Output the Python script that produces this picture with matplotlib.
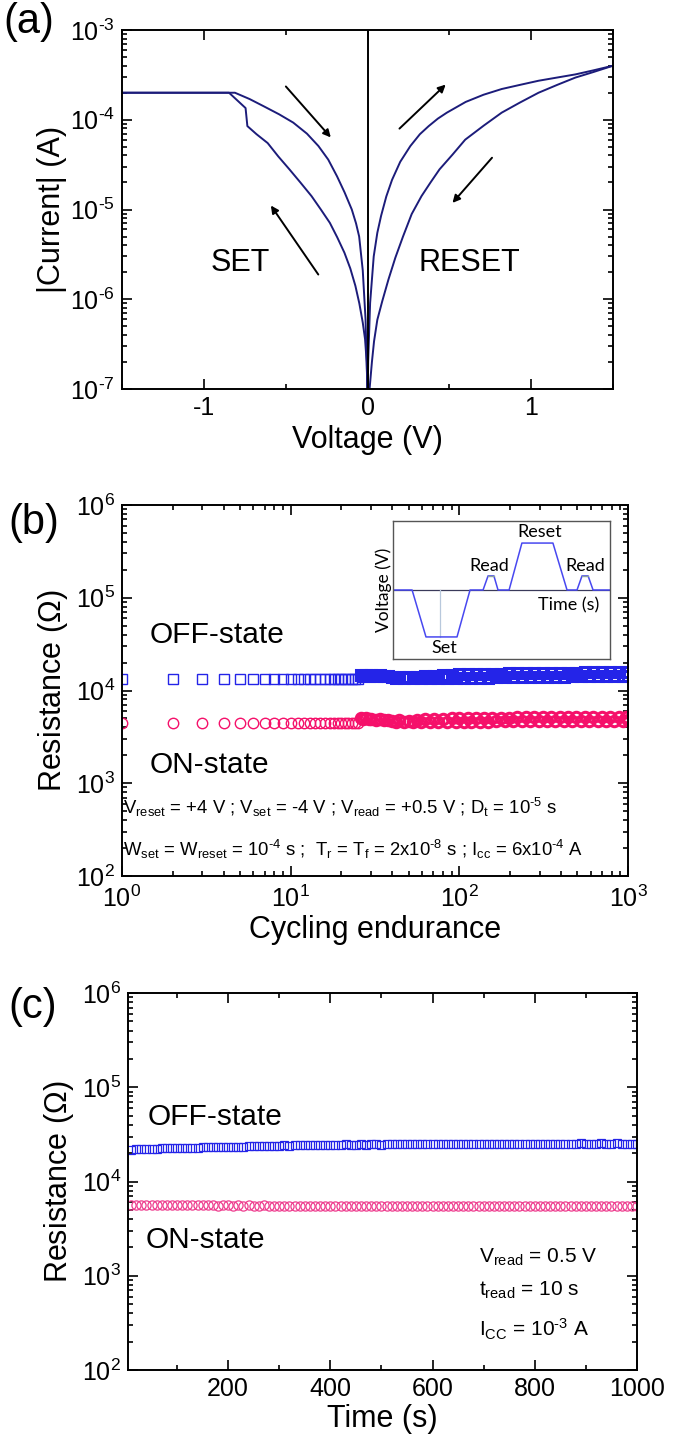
import numpy as np
import matplotlib
matplotlib.use("Agg")
import matplotlib.pyplot as plt
from matplotlib.ticker import LogLocator, NullFormatter, MultipleLocator, FuncFormatter

plt.rcParams['font.family'] = ['Liberation Sans', 'DejaVu Sans']
plt.rcParams['mathtext.fontset'] = 'custom'
plt.rcParams['mathtext.rm'] = 'Liberation Sans'
plt.rcParams['mathtext.it'] = 'Liberation Sans:italic'
plt.rcParams['axes.unicode_minus'] = False

# ---- (a) I-V sweeps ----
set_v = [0.0, -0.001, -0.005, -0.015, -0.029, -0.05, -0.074, -0.105, -0.141, -0.185,
         -0.23, -0.285, -0.342, -0.41, -0.477, -0.545, -0.61, -0.678, -0.734, -0.745,
         -0.846, -1.5]
set_i = [5e-8, 1e-7, 2.0e-7, 3.6e-7, 5.5e-7, 9.0e-7, 1.41e-6, 2.2e-6, 3.3e-6, 4.9e-6,
         7.1e-6, 1.0e-5, 1.41e-5, 2.0e-5, 2.8e-5, 3.9e-5, 5.5e-5, 6.9e-5, 8.5e-5, 1.35e-4,
         2.0e-4, 2.0e-4]
lrs_neg_v = [-1.5, -0.81, -0.72, -0.633, -0.54, -0.454, -0.37, -0.30, -0.24, -0.186,
             -0.14, -0.096, -0.07, -0.051, -0.029, -0.012, -0.003, 0.0]
lrs_neg_i = [2.0e-4, 2.0e-4, 1.7e-4, 1.41e-4, 1.15e-4, 9.3e-5, 7.0e-5, 5.1e-5, 3.6e-5, 2.34e-5,
             1.55e-5, 1.0e-5, 7.0e-6, 5.0e-6, 2.1e-6, 6.0e-7, 1.5e-7, 5e-8]
lrs_pos_v = [0.0, 0.004, 0.016, 0.038, 0.06, 0.083, 0.115, 0.15, 0.2, 0.262, 0.32,
             0.374, 0.43, 0.485, 0.6, 0.709, 0.82, 0.933, 1.045, 1.157, 1.27, 1.38, 1.5]
lrs_pos_i = [5e-8, 2e-7, 9.1e-7, 3.0e-6, 5.5e-6, 8.5e-6, 1.4e-5, 2.14e-5, 3.4e-5, 5.1e-5, 6.9e-5,
             8.5e-5, 1.03e-4, 1.2e-4, 1.58e-4, 1.9e-4, 2.2e-4, 2.45e-4, 2.72e-4, 2.95e-4, 3.2e-4,
             3.55e-4, 4.0e-4]
hrs_pos_v = [1.5, 1.38, 1.27, 1.16, 1.045, 0.93, 0.82, 0.71, 0.597, 0.52, 0.44, 0.385,
             0.33, 0.27, 0.217, 0.17, 0.128, 0.09, 0.06, 0.04, 0.027, 0.008]
hrs_pos_i = [4.0e-4, 3.4e-4, 2.95e-4, 2.45e-4, 2.0e-4, 1.55e-4, 1.2e-4, 8.6e-5, 6.0e-5, 4.1e-5,
             2.8e-5, 2.0e-5, 1.41e-5, 8.9e-6, 5.0e-6, 2.9e-6, 1.66e-6, 9.5e-7, 5.9e-7, 3.4e-7,
             2.0e-7, 8e-8]

# ---- (b) endurance: cycle number, resistance in kOhm ----
cycles_sparse = list(range(1, 26))
off_sparse_k = [13.4, 13.3, 13.3, 13.4, 13.3, 13.3, 13.4, 13.3, 13.3, 13.4, 13.3, 13.4, 13.3,
                13.3, 13.4, 13.3, 13.4, 13.3, 13.4, 13.3, 13.4, 13.4, 13.3, 13.4, 13.4]
on_sparse_k = [4.45, 4.44, 4.45, 4.44, 4.45, 4.44, 4.45, 4.44, 4.44, 4.45, 4.44, 4.45, 4.44,
               4.44, 4.45, 4.44, 4.45, 4.44, 4.45, 4.44, 4.45, 4.45, 4.44, 4.45, 4.46]
cycles_dense = [
    26, 27, 28, 29, 30, 32, 34, 36, 38, 40, 42, 44, 47, 50, 53, 56, 59, 63, 67, 71,
    75, 80, 85, 90, 95, 100, 106, 112, 118, 125, 132, 140, 148, 157, 166, 176, 186, 197,
    209, 221, 234, 248, 263, 278, 295, 312, 331, 350, 371, 393, 416, 441, 467, 495, 524,
    555, 588, 623, 660, 699, 741, 785, 831, 880, 933, 970, 1000]
off_dense_k = [
    14.7, 14.4, 14.8, 14.4, 14.7, 14.3, 14.6, 14.4, 14.2, 13.9, 13.6, 14.0, 13.6, 13.9, 13.6,
    14.1, 13.5, 14.3, 13.5, 14.5, 13.5, 14.7, 13.6, 14.8, 13.6, 14.9, 13.7, 15.0, 13.7, 15.0,
    13.8, 15.1, 13.8, 15.2, 13.9, 15.2, 13.9, 15.3, 13.9, 15.3, 14.0, 15.4, 14.0, 15.4,
    14.0, 15.5, 14.1, 15.5, 14.1, 15.5, 14.1, 15.6, 14.2, 15.6, 14.2, 15.7, 14.3, 15.7,
    14.3, 15.7, 14.3, 15.8, 14.4, 15.8, 14.4, 15.8, 14.5]
on_dense_k = [
    5.00, 4.88, 5.02, 4.90, 4.98, 4.85, 4.95, 4.84, 4.80, 4.72, 4.62, 4.76, 4.60, 4.72, 4.58,
    4.82, 4.55, 4.88, 4.56, 4.92, 4.56, 4.96, 4.58, 5.00, 4.60, 5.02, 4.60, 5.05, 4.62, 5.06,
    4.62, 5.08, 4.63, 5.08, 4.64, 5.10, 4.65, 5.10, 4.65, 5.12, 4.66, 5.12, 4.67, 5.14,
    4.67, 5.14, 4.68, 5.15, 4.68, 5.16, 4.69, 5.16, 4.70, 5.17, 4.70, 5.18, 4.71, 5.18,
    4.72, 5.19, 4.72, 5.20, 4.73, 5.20, 4.74, 5.21, 4.75]

# ---- (c) retention: time (s), resistance in kOhm ----
retention_time_s = list(range(10, 1001, 10))
off_retention_k = [
    21.8, 22.0, 22.1, 22.2, 22.1, 22.3, 22.4, 22.5, 22.4, 22.6,
    22.7, 22.8, 22.7, 22.9, 23.0, 23.1, 23.0, 23.2, 23.3, 23.2,
    23.4, 23.5, 23.4, 23.6, 23.7, 23.6, 23.8, 23.9, 23.8, 24.0,
    24.1, 24.0, 24.2, 24.1, 24.3, 24.2, 24.4, 24.3, 24.5, 24.4,
    24.6, 24.5, 24.7, 24.6, 24.5, 24.7, 24.6, 24.8, 24.7, 24.6,
    24.7, 24.8, 24.7, 24.9, 24.8, 24.7, 24.8, 24.9, 24.8, 24.7,
    24.8, 24.9, 25.0, 24.8, 24.9, 25.0, 24.9, 24.8, 25.0, 25.1,
    25.0, 24.9, 25.0, 25.1, 25.0, 25.2, 25.1, 25.0, 25.1, 25.2,
    25.1, 25.0, 25.2, 25.1, 25.3, 25.2, 25.1, 25.3, 25.4, 25.2,
    25.3, 25.2, 25.4, 25.3, 25.2, 25.4, 25.3, 25.2, 25.3, 25.2]
on_retention_k = [
    5.62, 5.60, 5.61, 5.59, 5.60, 5.58, 5.59, 5.60, 5.58, 5.59,
    5.58, 5.57, 5.58, 5.59, 5.57, 5.58, 5.57, 5.56, 5.58, 5.57,
    5.56, 5.57, 5.56, 5.58, 5.56, 5.55, 5.57, 5.56, 5.55, 5.56,
    5.55, 5.56, 5.54, 5.55, 5.56, 5.54, 5.55, 5.54, 5.56, 5.55,
    5.54, 5.55, 5.53, 5.54, 5.55, 5.53, 5.54, 5.53, 5.55, 5.54,
    5.53, 5.54, 5.52, 5.53, 5.54, 5.52, 5.53, 5.52, 5.54, 5.53,
    5.52, 5.53, 5.51, 5.52, 5.53, 5.51, 5.52, 5.51, 5.53, 5.52,
    5.51, 5.52, 5.50, 5.51, 5.52, 5.50, 5.51, 5.50, 5.52, 5.51,
    5.50, 5.51, 5.49, 5.50, 5.51, 5.49, 5.50, 5.49, 5.51, 5.50,
    5.49, 5.50, 5.48, 5.49, 5.50, 5.48, 5.49, 5.48, 5.50, 5.49]

# ---- inset: schematic pulse train (arbitrary units) ----
pulse_t = [0, 8.8, 15.2, 29.5, 35.5, 41.5, 43.8, 46.5, 48.4, 53.5, 59.4, 73.7, 80.2,
           84.8, 87.1, 89.9, 92.2, 100]
pulse_v = [0, 0, -1, -1, 0, 0, 0.3, 0.3, 0, 0, 1, 1, 0, 0, 0.3, 0.3, 0, 0]

W, H = 675, 1449
fig = plt.figure(figsize=(W / 100, H / 100), dpi=100)


def box(l, t, r, b):
    return [l / W, 1 - b / H, (r - l) / W, (b - t) / H]


def pow10(v, pos):
    e = int(round(np.log10(v)))
    if e < 0:
        return '10$^{\\text{-}%d}$' % (-e)
    return '10$^{%d}$' % e


def style(ax):
    ax.tick_params(which='both', direction='in', top=True, right=True, labelsize=18,
                   width=1.2, pad=5)
    ax.tick_params(which='major', length=7)
    ax.tick_params(which='minor', length=3.5)
    for s in ax.spines.values():
        s.set_linewidth(1.4)


def logy(a):
    a.set_major_locator(LogLocator(base=10, numticks=10))
    a.set_minor_locator(LogLocator(base=10, subs=np.arange(2, 10), numticks=20))
    a.set_major_formatter(FuncFormatter(pow10))
    a.set_minor_formatter(NullFormatter())


line_col = '#1c1c7a'
blue = '#2424e8'
pink = '#f5106a'
pink_c = '#ee3d8e'
lab = 22

# ---------------- (a) ----------------
ax = fig.add_axes(box(122, 30, 613, 389))
for v, i in [(set_v, set_i), (lrs_neg_v, lrs_neg_i), (lrs_pos_v, lrs_pos_i), (hrs_pos_v, hrs_pos_i)]:
    ax.plot(v, i, color=line_col, lw=1.4)
ax.axvline(0, color='black', lw=1.4)
ax.set_yscale('log')
ax.set_xlim(-1.5, 1.5)
ax.set_ylim(1e-7, 1e-3)
ax.xaxis.set_major_locator(MultipleLocator(1))
ax.xaxis.set_minor_locator(MultipleLocator(0.5))
ax.xaxis.set_major_formatter(FuncFormatter(lambda v, p: '%d' % v))
logy(ax.yaxis)
style(ax)
ax.set_xlabel('Voltage (V)', fontsize=lab, labelpad=4)
ax.set_ylabel('|Current| (A)', fontsize=lab, labelpad=2)
arrow = dict(arrowstyle='-|>', color='black', lw=1.4, mutation_scale=11)
ax.annotate('', xy=(-0.213, 10**-4.22), xytext=(-0.51, 10**-3.606), arrowprops=arrow)
ax.annotate('', xy=(-0.6, 10**-4.93), xytext=(-0.291, 10**-5.75), arrowprops=arrow)
ax.annotate('', xy=(0.49, 10**-3.587), xytext=(0.183, 10**-4.12), arrowprops=arrow)
ax.annotate('', xy=(0.508, 10**-4.95), xytext=(0.772, 10**-4.40), arrowprops=arrow)
ax.text(-0.78, 10**-5.6, 'SET', fontsize=22, ha='center', va='center')
ax.text(0.62, 10**-5.6, 'RESET', fontsize=22, ha='center', va='center')

# ---------------- (b) ----------------
ax = fig.add_axes(box(122, 505, 628, 876))
ax.plot(cycles_sparse, np.array(off_sparse_k) * 1e3, ls='none', marker='s', ms=6.5,
        mfc='none', mec=blue, mew=1.0)
ax.plot(cycles_sparse, np.array(on_sparse_k) * 1e3, ls='none', marker='o', ms=7.5,
        mfc='none', mec=pink, mew=1.0)
ax.plot(cycles_dense, np.array(off_dense_k) * 1e3, ls='none', marker='s', ms=6.5,
        mfc='none', mec=blue, mew=2.2)
ax.plot(cycles_dense, np.array(on_dense_k) * 1e3, ls='none', marker='o', ms=7.5,
        mfc='none', mec=pink, mew=2.2)
ax.set_xscale('log')
ax.set_yscale('log')
ax.set_xlim(1, 1000)
ax.set_ylim(1e2, 1e6)
logy(ax.xaxis)
logy(ax.yaxis)
style(ax)
ax.tick_params(axis='x', pad=7)
ax.set_xlabel('Cycling endurance', fontsize=lab, labelpad=2)
ax.set_ylabel('Resistance ($\\Omega$)', fontsize=lab, labelpad=4)
ax.text(1.45, 10**4.6, 'OFF-state', fontsize=21.5, va='center')
ax.text(1.45, 10**3.2, 'ON-state', fontsize=21.5, va='center')
ax.text(1.02, 10**2.74, 'V$_{\\rm reset}$ = +4 V ; V$_{\\rm set}$ = -4 V ; '
        'V$_{\\rm read}$ = +0.5 V ; D$_{\\rm t}$ = 10$^{\\text{-}5}$ s', fontsize=13.3, va='center')
ax.text(1.02, 10**2.29, 'W$_{\\rm set}$ = W$_{\\rm reset}$ = 10$^{\\text{-}4}$ s ;  '
        'T$_{\\rm r}$ = T$_{\\rm f}$ = 2x10$^{\\text{-}8}$ s ; I$_{\\rm cc}$ = 6x10$^{\\text{-}4}$ A',
        fontsize=13.3, va='center')

# inset
axi = fig.add_axes(box(393, 521, 610, 659))
axi.axhline(0, color='#3a3a5a', lw=0.9)
axi.plot([21.7, 21.7], [0, -1], color='#b8c8dc', lw=0.9)
axi.plot(pulse_t, pulse_v, color='#4848f0', lw=1.1)
axi.plot([43.8, 46.5], [0.3, 0.3], color='#8aa0a0', lw=1.0)
axi.plot([87.1, 89.9], [0.3, 0.3], color='#8aa0a0', lw=1.0)
axi.set_xlim(0, 100)
axi.set_ylim(-1.47, 1.47)
axi.set_xticks([])
axi.set_yticks([])
for s in axi.spines.values():
    s.set_linewidth(1.0)
    s.set_color('#555555')
ifam = ['Lato', 'DejaVu Sans']
ifont = dict(family=ifam, fontsize=13, ha='center', va='center')
axi.set_ylabel('Voltage (V)', fontdict={'family': ifam, 'fontsize': 12.5}, labelpad=1)
axi.text(81, -0.33, 'Time (s)', **ifont)
axi.text(67.7, 1.24, 'Reset', **ifont)
axi.text(44.5, 0.52, 'Read', **ifont)
axi.text(88.5, 0.52, 'Read', **ifont)
axi.text(23.5, -1.24, 'Set', **ifont)

# ---------------- (c) ----------------
ax = fig.add_axes(box(128, 993, 637, 1370))
ax.plot(retention_time_s, np.array(off_retention_k) * 1e3, ls='none', marker='s', ms=6.4,
        mfc='none', mec=blue, mew=0.9)
ax.plot(retention_time_s, np.array(on_retention_k) * 1e3, ls='none', marker='o', ms=6.6,
        mfc='none', mec=pink_c, mew=0.9)
ax.set_yscale('log')
ax.set_xlim(4, 1000)
ax.set_ylim(1e2, 1e6)
ax.set_xticks([200, 400, 600, 800, 1000])
ax.xaxis.set_minor_locator(MultipleLocator(100))
logy(ax.yaxis)
style(ax)
ax.set_xlabel('Time (s)', fontsize=lab, labelpad=2)
ax.set_ylabel('Resistance ($\\Omega$)', fontsize=lab, labelpad=4)
ax.text(43, 10**4.68, 'OFF-state', fontsize=21.5, va='center')
ax.text(38, 10**3.38, 'ON-state', fontsize=21.5, va='center')
ax.text(690, 10**3.2, 'V$_{\\rm read}$ = 0.5 V', fontsize=15, va='center')
ax.text(690, 10**2.85, 't$_{\\rm read}$ = 10 s', fontsize=15, va='center')
ax.text(690, 10**2.43, 'I$_{\\rm CC}$ = 10$^{\\text{-}3}$ A', fontsize=15, va='center')

# panel letters
fig.text(3 / W, 1 - 22 / H, '(a)', fontsize=30, va='center')
fig.text(8 / W, 1 - 523 / H, '(b)', fontsize=30, va='center')
fig.text(8 / W, 1 - 1007 / H, '(c)', fontsize=30, va='center')

fig.savefig('out.png', dpi=100)
